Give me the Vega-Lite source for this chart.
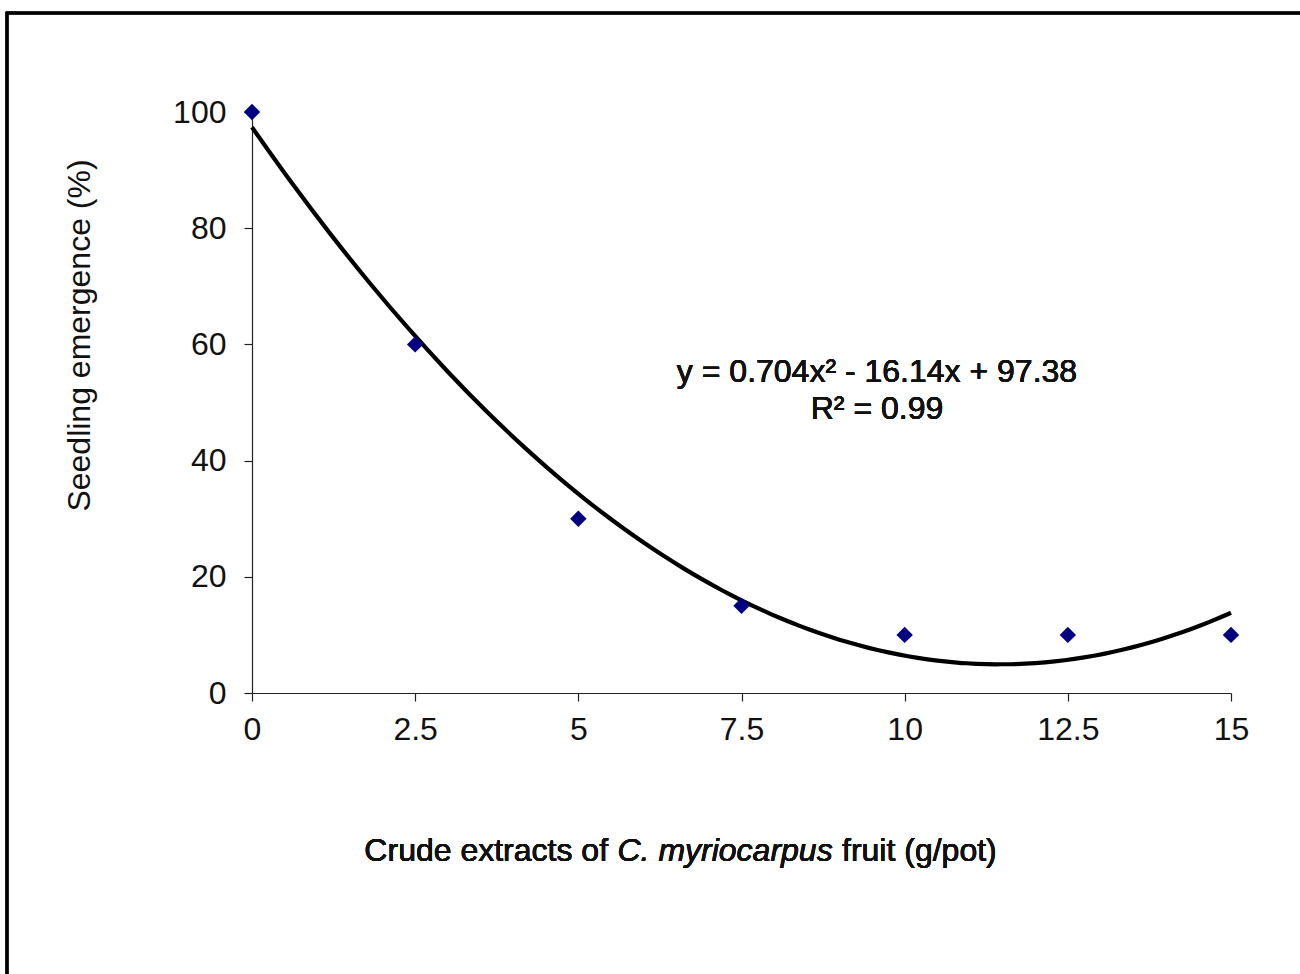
{
  "$schema": "https://vega.github.io/schema/vega-lite/v6.json",
  "autosize": {"type": "none"},
  "padding": {"left": 252, "top": 112, "right": 69, "bottom": 281},
  "width": 979,
  "height": 581,
  "background": "white",
  "config": {
    "view": {"stroke": null},
    "font": "Liberation Sans",
    "axis": {
      "grid": false,
      "domainColor": "#222222",
      "tickColor": "#222222",
      "domainWidth": 1.2,
      "tickWidth": 1.2,
      "tickSize": 8,
      "labelColor": "#111111",
      "labelFont": "Liberation Sans",
      "labelFontSize": 32,
      "titleFont": "Liberation Sans",
      "titleFontSize": 32,
      "titleFontWeight": "normal",
      "titleColor": "#111111"
    }
  },
  "data": {
    "values": [
      {"dose": 0, "emergence": 100},
      {"dose": 2.5, "emergence": 60},
      {"dose": 5, "emergence": 30},
      {"dose": 7.5, "emergence": 15},
      {"dose": 10, "emergence": 10},
      {"dose": 12.5, "emergence": 10},
      {"dose": 15, "emergence": 10}
    ]
  },
  "encoding": {
    "x": {
      "field": "dose",
      "type": "quantitative",
      "scale": {"domain": [0, 15], "nice": false, "zero": false},
      "axis": {
        "values": [0, 2.5, 5, 7.5, 10, 12.5, 15],
        "labelExpr": "'' + datum.value",
        "labelFlush": false,
        "labelOverlap": false,
        "title": null,
        "labelPadding": 13
      }
    },
    "y": {
      "field": "emergence",
      "type": "quantitative",
      "scale": {"domain": [0, 100], "nice": false},
      "axis": {
        "values": [0, 20, 40, 60, 80, 100],
        "title": "Seedling emergence (%)",
        "labelPadding": 18,
        "titlePadding": 76,
        "titleY": 223
      }
    }
  },
  "layer": [
    {
      "mark": {"type": "rect", "fill": null, "stroke": "black", "strokeWidth": 2.5, "clip": false},
      "encoding": {
        "x": {"datum": -3.754},
        "x2": {"datum": 22},
        "y": {"datum": 117.04},
        "y2": {"datum": -80}
      }
    },
    {
      "transform": [
        {"regression": "emergence", "on": "dose", "method": "poly", "order": 2, "extent": [0, 15]}
      ],
      "mark": {"type": "line", "color": "black", "strokeWidth": 4.2, "interpolate": "monotone"}
    },
    {
      "mark": {"type": "point", "shape": "diamond", "filled": true, "color": "#000080", "size": 270, "opacity": 1}
    },
    {
      "mark": {"type": "text", "fontSize": 32, "align": "center", "baseline": "middle", "color": "#111111"},
      "encoding": {
        "x": {"datum": 9.576},
        "y": {"datum": 55.25},
        "text": {"value": "y = 0.704x² - 16.14x + 97.38"}
      }
    },
    {
      "mark": {"type": "text", "fontSize": 32, "align": "center", "baseline": "middle", "color": "#111111"},
      "encoding": {
        "x": {"datum": 9.576},
        "y": {"datum": 48.88},
        "text": {"value": "R² = 0.99"}
      }
    },
    {
      "mark": {"type": "text", "fontSize": 32, "align": "right", "baseline": "middle", "color": "#111111", "clip": false},
      "encoding": {
        "x": {"datum": 5.455},
        "y": {"datum": -27.2},
        "text": {"value": "Crude extracts of"}
      }
    },
    {
      "mark": {"type": "text", "fontSize": 32, "fontStyle": "italic", "align": "left", "baseline": "middle", "color": "#111111", "clip": false},
      "encoding": {
        "x": {"datum": 5.6},
        "y": {"datum": -27.2},
        "text": {"value": "C. myriocarpus"}
      }
    },
    {
      "mark": {"type": "text", "fontSize": 32, "align": "left", "baseline": "middle", "color": "#111111", "clip": false},
      "encoding": {
        "x": {"datum": 9.04},
        "y": {"datum": -27.2},
        "text": {"value": "fruit (g/pot)"}
      }
    }
  ]
}
